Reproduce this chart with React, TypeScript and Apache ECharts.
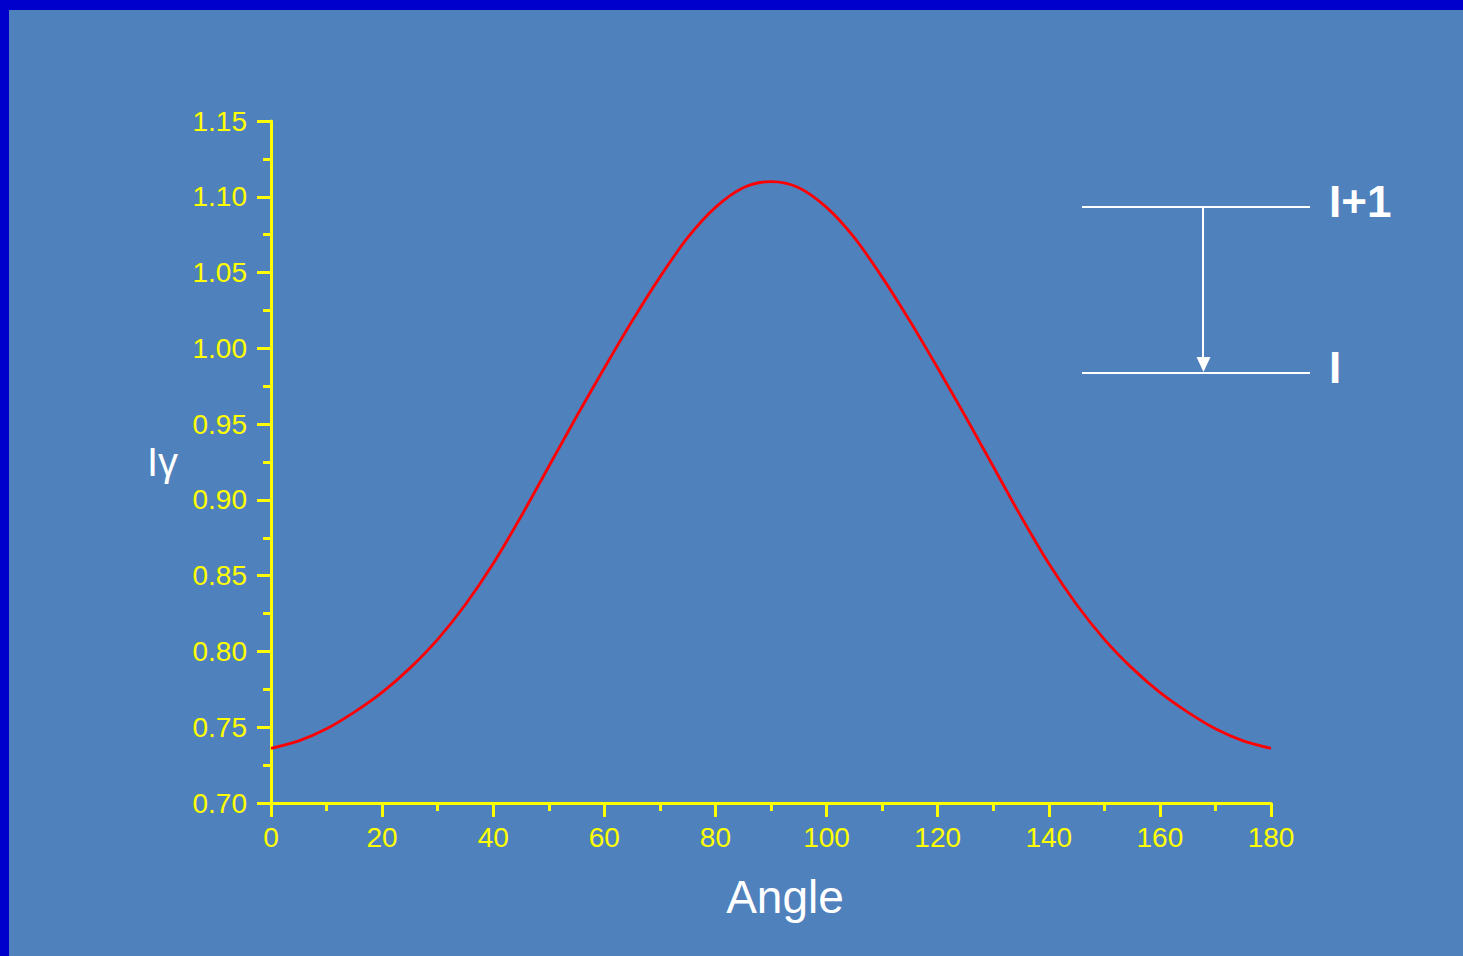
import React, { useEffect, useRef } from "react";
import * as echarts from "echarts";

const angles = [
  0, 5, 10, 15, 20, 25, 30, 35, 40, 45, 50, 55, 60, 65, 70, 75, 80, 85, 90,
  95, 100, 105, 110, 115, 120, 125, 130, 135, 140, 145, 150, 155, 160, 165, 170, 175, 180,
];
const intensity = [
  0.736, 0.741, 0.749, 0.76, 0.773, 0.789, 0.808, 0.831, 0.858, 0.889, 0.922, 0.955, 0.987,
  1.018, 1.047, 1.073, 1.093, 1.106, 1.11,
  1.106, 1.093, 1.073, 1.047, 1.018, 0.987, 0.955, 0.922, 0.889, 0.858, 0.831, 0.808, 0.789,
  0.773, 0.76, 0.749, 0.741, 0.736,
];
const xTicks = { min: 0, max: 180, interval: 20 };
const yTicks = { min: 0.7, max: 1.15, interval: 0.05 };
const xName = "Angle";
const yName = "Iγ";
const upperLevel = "I+1";
const lowerLevel = "I";

const FONT = "'Liberation Sans', Arial, sans-serif";
const YELLOW = "#ffff00";

export default function App() {
  const ref = useRef<HTMLDivElement>(null);
  useEffect(() => {
    document.body.style.margin = "0";
    const chart = echarts.init(ref.current!, null, { renderer: "svg" });
    chart.setOption({
      animation: false,
      backgroundColor: "#4f81bd",
      grid: { left: 271, right: 192, top: 121, bottom: 153 },
      xAxis: {
        type: "value",
        min: xTicks.min,
        max: xTicks.max,
        interval: xTicks.interval,
        name: xName,
        nameLocation: "middle",
        nameGap: 71,
        nameTextStyle: { color: "#ffffff", fontSize: 46, fontFamily: FONT, padding: [0, 0, 0, 28] },
        axisLine: { onZero: false, lineStyle: { color: YELLOW, width: 3 } },
        axisTick: { show: true, inside: false, length: 14, lineStyle: { color: YELLOW, width: 3 } },
        minorTick: { show: true, splitNumber: 2, length: 8, lineStyle: { color: YELLOW, width: 3 } },
        axisLabel: { color: YELLOW, fontSize: 28, fontFamily: FONT, margin: 20 },
        splitLine: { show: false },
      },
      yAxis: {
        type: "value",
        min: yTicks.min,
        max: yTicks.max,
        interval: yTicks.interval,
        name: yName,
        nameLocation: "middle",
        nameRotate: 0,
        nameGap: 93,
        nameTextStyle: { color: "#ffffff", fontSize: 40, fontFamily: FONT },
        axisLine: { show: true, onZero: false, lineStyle: { color: YELLOW, width: 3 } },
        axisTick: { show: true, inside: false, length: 14, lineStyle: { color: YELLOW, width: 3 } },
        minorTick: { show: true, splitNumber: 2, length: 8, lineStyle: { color: YELLOW, width: 3 } },
        axisLabel: {
          color: YELLOW,
          fontSize: 28,
          fontFamily: FONT,
          margin: 24,
          formatter: (v: number) => v.toFixed(2),
        },
        splitLine: { show: false },
      },
      series: [
        {
          type: "line",
          data: angles.map((a, i) => [a, intensity[i]]),
          smooth: 0.3,
          showSymbol: false,
          lineStyle: { color: "#ff0000", width: 2.8 },
        },
      ],
      graphic: [
        { type: "rect", shape: { x: 0, y: 0, width: 1463, height: 10 }, style: { fill: "#0000cc" } },
        { type: "rect", shape: { x: 0, y: 0, width: 9, height: 956 }, style: { fill: "#0000cc" } },
        { type: "line", shape: { x1: 1082, y1: 207, x2: 1310, y2: 207 }, style: { stroke: "#ffffff", lineWidth: 2 } },
        { type: "line", shape: { x1: 1082, y1: 373, x2: 1310, y2: 373 }, style: { stroke: "#ffffff", lineWidth: 2 } },
        { type: "line", shape: { x1: 1203, y1: 207, x2: 1203, y2: 360 }, style: { stroke: "#ffffff", lineWidth: 2 } },
        {
          type: "polygon",
          shape: { points: [[1196.5, 357], [1210.5, 357], [1203.5, 372]] },
          style: { fill: "#ffffff" },
        },
        {
          type: "text",
          x: 1329,
          y: 201,
          style: {
            text: upperLevel,
            fill: "#ffffff",
            fontSize: 44,
            fontWeight: "bold",
            fontFamily: FONT,
            verticalAlign: "middle",
            align: "left",
          },
        },
        {
          type: "text",
          x: 1329,
          y: 367,
          style: {
            text: lowerLevel,
            fill: "#ffffff",
            fontSize: 44,
            fontWeight: "bold",
            fontFamily: FONT,
            verticalAlign: "middle",
            align: "left",
          },
        },
      ],
    });
    return () => chart.dispose();
  }, []);
  return (
    <div
      ref={ref}
      style={{ position: "absolute", left: 0, top: 0, width: 1463, height: 956 }}
    />
  );
}
